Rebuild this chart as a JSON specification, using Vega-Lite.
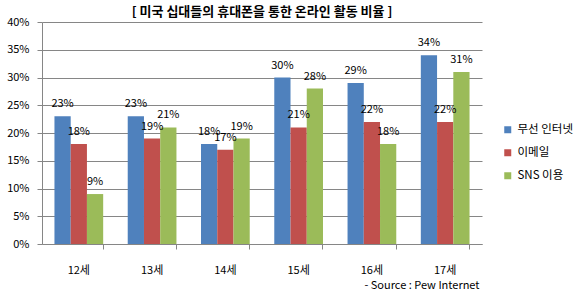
{
  "$schema": "https://vega.github.io/schema/vega-lite/v6.json",
  "width": 440,
  "height": 222,
  "autosize": {"type": "none"},
  "padding": {"left": 42, "top": 22, "right": 94, "bottom": 52},
  "background": "white",
  "config": {
    "font": "Noto Sans CJK KR",
    "view": {"stroke": null},
    "axis": {"labelFont": "Noto Sans CJK KR", "titleFont": "Noto Sans CJK KR"}
  },
  "title": {
    "text": "[ 미국 십대들의 휴대폰을 통한 온라인 활동 비율 ]",
    "fontSize": 13,
    "fontWeight": "bold",
    "color": "black",
    "anchor": "middle",
    "offset": -3
  },
  "data": {
    "values": [
      {"age": "12세", "series": "무선 인터넷", "value": 0.23},
      {"age": "12세", "series": "이메일", "value": 0.18},
      {"age": "12세", "series": "SNS 이용", "value": 0.09},
      {"age": "13세", "series": "무선 인터넷", "value": 0.23},
      {"age": "13세", "series": "이메일", "value": 0.19},
      {"age": "13세", "series": "SNS 이용", "value": 0.21},
      {"age": "14세", "series": "무선 인터넷", "value": 0.18},
      {"age": "14세", "series": "이메일", "value": 0.17},
      {"age": "14세", "series": "SNS 이용", "value": 0.19},
      {"age": "15세", "series": "무선 인터넷", "value": 0.30},
      {"age": "15세", "series": "이메일", "value": 0.21},
      {"age": "15세", "series": "SNS 이용", "value": 0.28},
      {"age": "16세", "series": "무선 인터넷", "value": 0.29},
      {"age": "16세", "series": "이메일", "value": 0.22},
      {"age": "16세", "series": "SNS 이용", "value": 0.18},
      {"age": "17세", "series": "무선 인터넷", "value": 0.34},
      {"age": "17세", "series": "이메일", "value": 0.22},
      {"age": "17세", "series": "SNS 이용", "value": 0.31}
    ]
  },
  "encoding": {
    "x": {
      "field": "age",
      "type": "nominal",
      "sort": null,
      "scale": {"paddingInner": 0.335, "paddingOuter": 0.17},
      "axis": {
        "title": "- Source : Pew Internet",
        "titleFontSize": 11,
        "titleFontWeight": "normal",
        "titleColor": "black",
        "titleAnchor": "end",
        "titleAlign": "right",
        "titleX": 437,
        "titleY": 41,
        "titleBaseline": "middle",
        "labelAngle": 0,
        "labelFontSize": 11,
        "labelColor": "black",
        "labelPadding": 15,
        "tickSize": 5,
        "bandPosition": 1,
        "tickColor": "#868686",
        "domainColor": "#868686",
        "grid": false
      }
    },
    "xOffset": {"field": "series", "type": "nominal", "sort": ["무선 인터넷", "이메일", "SNS 이용"], "scale": {"paddingInner": 0, "paddingOuter": 0}},
    "y": {
      "field": "value",
      "type": "quantitative",
      "scale": {"domain": [0, 0.4]},
      "axis": {
        "title": null,
        "values": [0, 0.05, 0.1, 0.15, 0.2, 0.25, 0.3, 0.35, 0.4],
        "format": ".0%",
        "labelFontSize": 11,
        "labelColor": "black",
        "labelPadding": 8,
        "tickSize": 5,
        "tickColor": "#868686",
        "domainColor": "#868686",
        "gridColor": "#868686",
        "grid": true
      }
    }
  },
  "layer": [
    {
      "mark": {"type": "bar"},
      "encoding": {
        "color": {
          "field": "series",
          "type": "nominal",
          "sort": ["무선 인터넷", "이메일", "SNS 이용"],
          "scale": {"domain": ["무선 인터넷", "이메일", "SNS 이용"], "range": ["#4F81BD", "#C0504D", "#9BBB59"]},
          "legend": {
            "title": null,
            "orient": "none",
            "legendX": 460,
            "legendY": 102,
            "symbolType": "square",
            "symbolSize": 49,
            "symbolStrokeWidth": 0,
            "labelFontSize": 11.5,
            "labelColor": "black",
            "rowPadding": 10,
            "labelOffset": 4
          }
        }
      }
    },
    {
      "mark": {"type": "text", "baseline": "bottom", "dy": -7, "fontSize": 11, "color": "black"},
      "encoding": {
        "text": {"field": "value", "type": "quantitative", "format": ".0%"},
        "detail": {"field": "series"}
      }
    }
  ]
}
